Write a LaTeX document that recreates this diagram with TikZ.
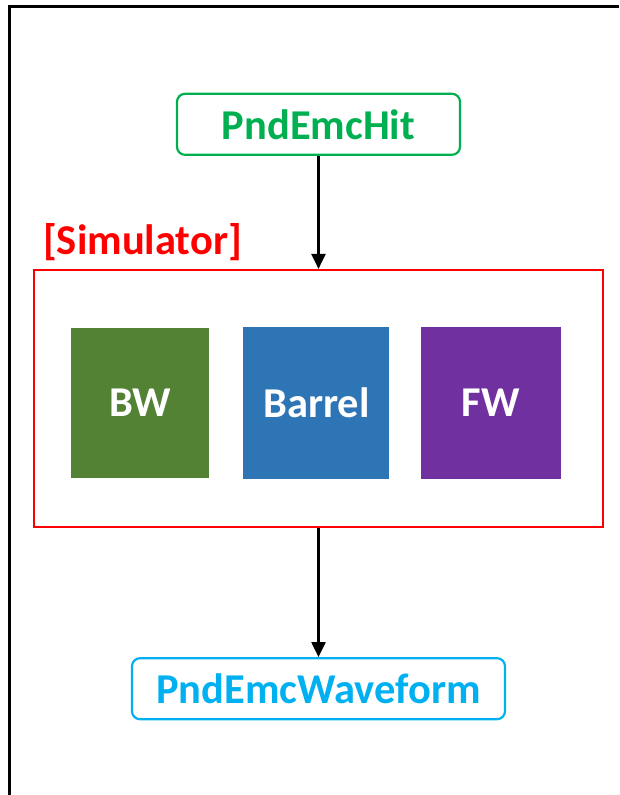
\documentclass[tikz,border=0pt]{standalone}
\usepackage{fontspec}
\setmainfont{Carlito}
\usetikzlibrary{positioning, arrows.meta}
\definecolor{hitgreen}{HTML}{00B050}
\definecolor{waveblue}{HTML}{00B0F0}
\definecolor{simred}{HTML}{FF0000}
\definecolor{bwgreen}{HTML}{548235}
\definecolor{barrelblue}{HTML}{2E75B6}
\definecolor{fwpurple}{HTML}{7030A0}
\tikzset{
    iobox/.style={draw, line width=2.2pt, rounded corners=8pt, minimum height=61pt, inner sep=0pt, font=\fontsize{42.5}{46}\selectfont\bfseries},
    simbox/.style={draw=simred, line width=2.2pt, minimum width=569pt, minimum height=257pt, inner sep=0pt},
    modbox/.style={inner sep=0pt, minimum height=150pt, text=white, font=\fontsize{42.5}{46}\selectfont\bfseries},
    flow/.style={-{Triangle[length=15pt, width=14pt]}, line width=2.2pt}
}
\begin{document}
\begin{tikzpicture}[x=1pt, y=-1pt]
  \useasboundingbox (0,0) rectangle (619,795);
  % frame
  \draw[line width=3pt] (9,795) |- (619,6);
  \node(sim)[simbox] at (318.5,398.5) {};
  \node(simlabel)[text=simred, font=\fontsize{42.5}{46}\selectfont\bfseries] at (142.5,242) {[Simulator]};
  \node(hit)[iobox, draw=hitgreen, text=hitgreen, minimum width=283pt, above=113pt of sim] {PndEmcHit};
  \node(wave)[iobox, draw=waveblue, text=waveblue, minimum width=373pt, below=129pt of sim] {PndEmcWaveform};
  \node(bw)[modbox, fill=bwgreen, minimum width=138pt] at (140,402.5) {BW};
  \node(barrel)[modbox, fill=barrelblue, minimum width=146pt, minimum height=152pt, right=34pt of bw] {Barrel};
  \node(fw)[modbox, fill=fwpurple, minimum width=140pt, minimum height=152pt, right=31pt of barrel] {FW};
  \draw[flow](hit)--(sim);
  \draw[flow](sim)--(wave);
\end{tikzpicture}
\end{document}
